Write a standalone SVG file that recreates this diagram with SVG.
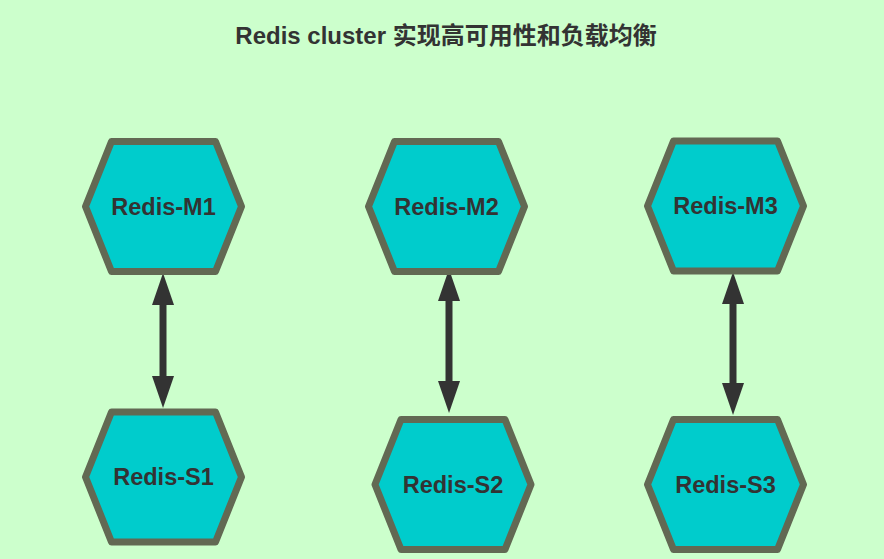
<svg xmlns="http://www.w3.org/2000/svg" width="884" height="559" viewBox="0 0 884 559">
  <style>
    .hex { fill: #00CCCC; stroke: #626953; stroke-width: 7; stroke-linejoin: round; }
    .lbl { font-family: "Liberation Sans", Arial, sans-serif; font-weight: bold; font-size: 23.5px; fill: #333333; text-anchor: middle; }
    .title { font-family: "Liberation Sans", Arial, "Noto Sans CJK SC", sans-serif; font-weight: bold; font-size: 24px; fill: #333333; text-anchor: middle; }
    .conn { stroke: #333333; stroke-width: 7; fill: none; marker-start: url(#arr); marker-end: url(#arr); }
  </style>
  <defs>
    <path id="hexShape" d="M-52,-65 L52,-65 L78,0 L52,65 L-52,65 L-78,0 Z"/>
    <marker id="arr" markerUnits="userSpaceOnUse" markerWidth="32" markerHeight="22" refX="2" refY="11" orient="auto-start-reverse" viewBox="0 0 32 22">
      <path d="M0,0 L32,11 L0,22 Z" fill="#333333"/>
    </marker>
  </defs>
  <rect width="884" height="559" fill="#CCFFCC"/>
  <text class="title" x="446" y="43.5">Redis cluster 实现高可用性和负载均衡</text>

  <g id="connectors">
    <path class="conn" d="M163,303 L163,378"/>
    <path class="conn" d="M449,299 L449,383"/>
    <path class="conn" d="M733,302 L733,385"/>
  </g>

  <g id="redis-m1">
    <use href="#hexShape" class="hex" transform="translate(163.5,206.5)"/>
    <text class="lbl" x="163.5" y="214.5">Redis-M1</text>
  </g>
  <g id="redis-m2">
    <use href="#hexShape" class="hex" transform="translate(446.5,206.5)"/>
    <text class="lbl" x="446.5" y="214.5">Redis-M2</text>
  </g>
  <g id="redis-m3">
    <use href="#hexShape" class="hex" transform="translate(725.5,206)"/>
    <text class="lbl" x="725.5" y="214">Redis-M3</text>
  </g>
  <g id="redis-s1">
    <use href="#hexShape" class="hex" transform="translate(163.5,477)"/>
    <text class="lbl" x="163.5" y="485">Redis-S1</text>
  </g>
  <g id="redis-s2">
    <use href="#hexShape" class="hex" transform="translate(453,484.5)"/>
    <text class="lbl" x="453" y="492.5">Redis-S2</text>
  </g>
  <g id="redis-s3">
    <use href="#hexShape" class="hex" transform="translate(725.5,484.5)"/>
    <text class="lbl" x="725.5" y="492.5">Redis-S3</text>
  </g>
</svg>
